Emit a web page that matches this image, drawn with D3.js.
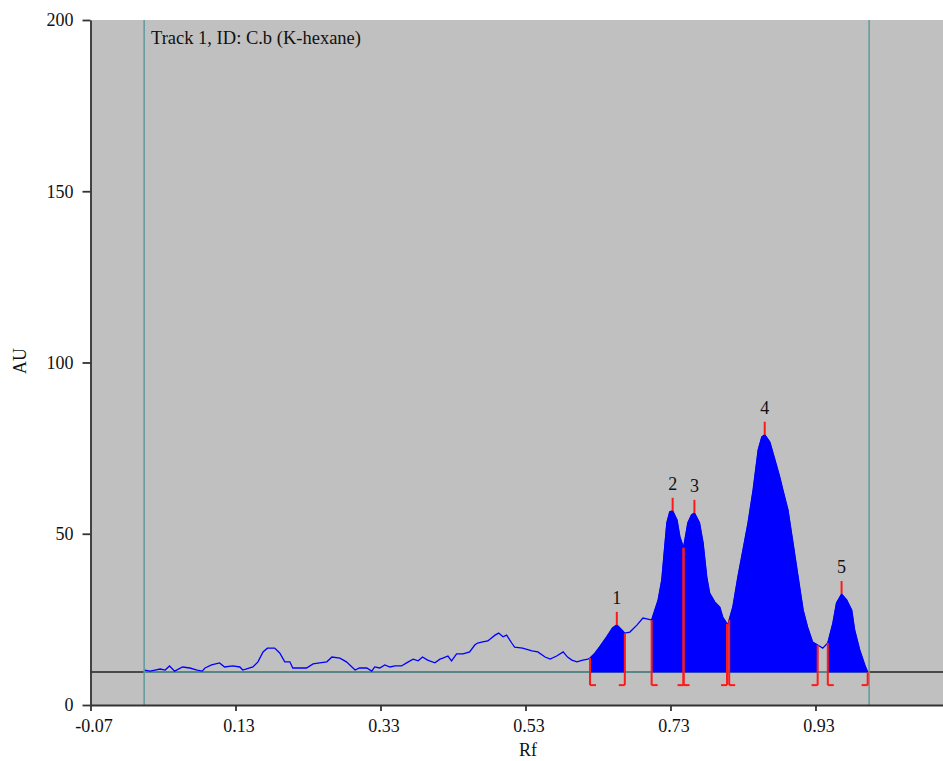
<!DOCTYPE html>
<html>
<head>
<meta charset="utf-8">
<script src="https://cdn.jsdelivr.net/npm/d3@7"></script>
<style>
  body { margin: 0; background: #fff; }
  text { font-family: "Liberation Serif", "Times New Roman", serif; }
</style>
</head>
<body>
<div id="chart"></div>
<script>
// Densitogram trace (Rf, AU)
var rfValues = [0.005, 0.012, 0.019, 0.026, 0.033, 0.039, 0.046, 0.057, 0.067, 0.077,
  0.084, 0.088, 0.097, 0.108, 0.115, 0.126, 0.136, 0.140, 0.154, 0.161,
  0.168, 0.174, 0.184, 0.191, 0.198, 0.205, 0.209, 0.219, 0.228, 0.237,
  0.246, 0.256, 0.263, 0.274, 0.283, 0.295, 0.301, 0.311, 0.318, 0.322,
  0.329, 0.336, 0.343, 0.350, 0.359, 0.366, 0.375, 0.382, 0.388, 0.395,
  0.405, 0.412, 0.416, 0.423, 0.428, 0.435, 0.444, 0.453, 0.460, 0.464,
  0.471, 0.478, 0.488, 0.493, 0.499, 0.504, 0.511, 0.515, 0.526, 0.539,
  0.547, 0.557, 0.564, 0.573, 0.582, 0.588, 0.594, 0.601, 0.609, 0.616,
  0.619, 0.626, 0.632, 0.642, 0.650, 0.656, 0.663, 0.667, 0.674, 0.684,
  0.692, 0.699, 0.704, 0.713, 0.718, 0.722, 0.725, 0.729, 0.733, 0.739,
  0.743, 0.748, 0.754, 0.759, 0.763, 0.770, 0.775, 0.780, 0.784, 0.791,
  0.798, 0.802, 0.809, 0.816, 0.823, 0.830, 0.837, 0.844, 0.851, 0.856,
  0.860, 0.867, 0.874, 0.881, 0.885, 0.892, 0.899, 0.906, 0.913, 0.919,
  0.926, 0.933, 0.940, 0.947, 0.954, 0.959, 0.966, 0.973, 0.980, 0.984,
  0.991, 0.998, 1.002];
var auValues = [10.2, 9.9, 10.2, 10.5, 10.2, 11.4, 9.9, 11.1, 10.8, 10.2,
  9.9, 10.8, 11.7, 12.3, 11.1, 11.4, 11.1, 10.2, 11.1, 12.6,
  15.5, 16.6, 16.6, 15.2, 12.6, 12.6, 10.8, 10.8, 10.8, 12.0,
  12.3, 12.6, 14.0, 13.7, 12.6, 10.2, 10.8, 10.8, 9.9, 11.1,
  10.8, 11.7, 11.1, 11.4, 11.4, 12.3, 13.4, 12.9, 14.0, 13.1,
  12.3, 13.4, 13.7, 14.3, 12.9, 14.9, 14.9, 15.5, 17.5, 18.1,
  18.4, 18.7, 20.4, 21.0, 19.9, 20.4, 18.1, 16.9, 16.6, 15.8,
  15.5, 14.0, 13.4, 14.3, 15.5, 14.0, 13.1, 12.6, 13.1, 13.4,
  13.7, 15.2, 16.9, 19.9, 22.5, 23.4, 21.9, 21.0, 21.3, 23.4,
  25.4, 25.1, 24.8, 30.7, 36.5, 46.1, 53.2, 56.4, 56.7, 54.0,
  49.1, 45.9, 53.2, 55.5, 56.1, 53.2, 47.3, 37.4, 32.7, 30.1,
  28.6, 25.7, 23.4, 28.6, 37.4, 45.3, 53.2, 62.8, 74.5, 78.3,
  78.9, 76.8, 71.6, 66.3, 62.8, 57.0, 47.3, 37.4, 27.7, 22.8,
  18.4, 17.5, 16.6, 18.1, 23.9, 29.8, 32.4, 30.7, 27.7, 21.9,
  16.1, 11.7, 9.6];

// Integrated peaks
var peakIds = ["1", "2", "3", "4", "5"];
var peakStart = [0.619, 0.704, 0.748, 0.811, 0.947];
var peakMax = [0.656, 0.733, 0.763, 0.860, 0.966];
var peakEnd = [0.667, 0.748, 0.808, 0.933, 1.002];

var baselineAU = 9.6;
var trackFront = [0.004, 1.004]; // application line and solvent front

var xTicks = [-0.07, 0.13, 0.33, 0.53, 0.73, 0.93];
var yTicks = [0, 50, 100, 150, 200];

var svgWidth = 943;
var svgHeight = 761;

var svg = d3.select("#chart")
  .append("svg")
  .attr("width", svgWidth)
  .attr("height", svgHeight);

var xScale = d3.scaleLinear()
  .domain([-0.07, 1.1059])
  .range([90.5, 943]);

var yScale = d3.scaleLinear()
  .domain([0, 200])
  .range([705, 20]);

var trace = rfValues.map(function(rf, i) { return { rf: rf, au: auValues[i] }; });

// linear lookup on the trace
var bisect = d3.bisector(function(d) { return d.rf; }).left;
function auAt(rf) {
  var i = bisect(trace, rf);
  if (i <= 0) return trace[0].au;
  if (i >= trace.length) return trace[trace.length - 1].au;
  var a = trace[i - 1], b = trace[i];
  return a.au + (b.au - a.au) * (rf - a.rf) / (b.rf - a.rf);
}

// plot background
svg.append("rect")
  .attr("x", xScale(-0.07))
  .attr("y", yScale(200))
  .attr("width", svgWidth - xScale(-0.07))
  .attr("height", yScale(0) - yScale(200))
  .attr("fill", "#c0c0c0");

// baseline
var yBase = yScale(baselineAU);
svg.append("line")
  .attr("x1", xScale(-0.07)).attr("x2", svgWidth)
  .attr("y1", yBase).attr("y2", yBase)
  .attr("stroke", "#222").attr("stroke-width", 1.5);
svg.append("line")
  .attr("x1", xScale(trackFront[0])).attr("x2", xScale(trackFront[1]))
  .attr("y1", yBase).attr("y2", yBase)
  .attr("stroke", "#5f9a9c").attr("stroke-width", 1.5);

// track limits
svg.selectAll(".front")
  .data(trackFront)
  .enter()
  .append("line")
  .attr("class", "front")
  .attr("x1", d => xScale(d)).attr("x2", d => xScale(d))
  .attr("y1", yScale(200)).attr("y2", yScale(0))
  .attr("stroke", "#5f9a9c").attr("stroke-width", 1.5);

// trace line
var line = d3.line()
  .x(d => xScale(d.rf))
  .y(d => yScale(d.au));

svg.append("path")
  .datum(trace)
  .attr("d", line)
  .attr("fill", "none")
  .attr("stroke", "#0000ff")
  .attr("stroke-width", 1.3);

// filled peak areas
var area = d3.area()
  .x(d => xScale(d.rf))
  .y0(yBase)
  .y1(d => yScale(d.au));

peakIds.forEach(function(id, i) {
  var pts = [{ rf: peakStart[i], au: auAt(peakStart[i]) }];
  trace.forEach(function(d) {
    if (d.rf > peakStart[i] && d.rf < peakEnd[i]) pts.push(d);
  });
  pts.push({ rf: peakEnd[i], au: auAt(peakEnd[i]) });
  svg.append("path")
    .datum(pts)
    .attr("d", area)
    .attr("fill", "#0000ff")
    .attr("stroke", "#0000ff")
    .attr("stroke-width", 0.8);
});

// peak limit brackets
var bracketBottom = yBase + 13;
var red = "#ff1a1a";
function bracket(rf, dir) {
  var px = xScale(rf);
  svg.append("line")
    .attr("x1", px).attr("x2", px)
    .attr("y1", yScale(auAt(rf))).attr("y2", bracketBottom)
    .attr("stroke", red).attr("stroke-width", 2);
  svg.append("line")
    .attr("x1", px - (dir < 0 ? 6 : 0)).attr("x2", px + (dir > 0 ? 6 : 0))
    .attr("y1", bracketBottom).attr("y2", bracketBottom)
    .attr("stroke", red).attr("stroke-width", 2);
}
peakIds.forEach(function(id, i) {
  bracket(peakStart[i], 1);
  bracket(peakEnd[i], -1);
});

// peak maxima markers and labels
peakIds.forEach(function(id, i) {
  var px = xScale(peakMax[i]);
  var top = yScale(auAt(peakMax[i]));
  svg.append("line")
    .attr("x1", px).attr("x2", px)
    .attr("y1", top - 13).attr("y2", top)
    .attr("stroke", red).attr("stroke-width", 2);
  svg.append("text")
    .attr("x", px)
    .attr("y", top - 21)
    .attr("text-anchor", "middle")
    .attr("font-size", "18px")
    .attr("fill", "#111")
    .text(id);
});

// axes
var leftAxis = d3.axisLeft(yScale)
  .tickValues(yTicks)
  .tickSize(8)
  .tickSizeOuter(0)
  .tickPadding(9);

var bottomAxis = d3.axisBottom(xScale)
  .tickValues(xTicks)
  .tickSize(6)
  .tickSizeOuter(0)
  .tickPadding(8)
  .tickFormat(d => d.toFixed(2));

var gy = svg.append("g")
  .attr("transform", `translate(${xScale(-0.07)}, 0)`)
  .call(leftAxis);

var gx = svg.append("g")
  .attr("transform", `translate(0, ${yScale(0)})`)
  .call(bottomAxis);

[gx, gy].forEach(function(g) {
  g.attr("font-family", null).attr("font-size", null);
  g.selectAll("path, line").attr("stroke", "#333").attr("stroke-width", 1.8);
  g.selectAll("text").attr("font-size", "18px").attr("fill", "#111");
});
gx.selectAll(".tick text").attr("dx", 3);

// title and axis labels
svg.append("text")
  .attr("x", 151)
  .attr("y", 44)
  .attr("font-size", "18.5px")
  .attr("fill", "#111")
  .text("Track 1, ID: C.b (K-hexane)");

svg.append("text")
  .attr("transform", "rotate(-90)")
  .attr("x", -361)
  .attr("y", 26)
  .attr("text-anchor", "middle")
  .attr("font-size", "18px")
  .attr("fill", "#111")
  .text("AU");

svg.append("text")
  .attr("x", 528)
  .attr("y", 756)
  .attr("text-anchor", "middle")
  .attr("font-size", "18px")
  .attr("fill", "#111")
  .text("Rf");
</script>
</body>
</html>
